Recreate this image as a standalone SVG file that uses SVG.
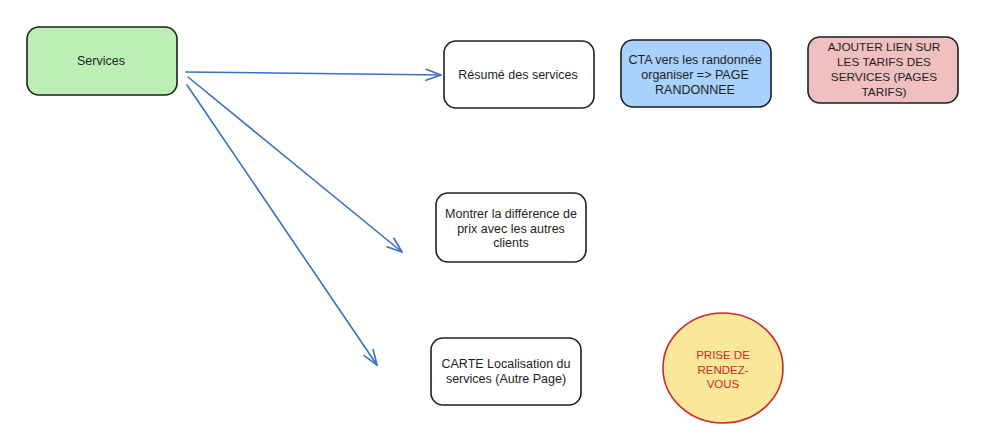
<svg xmlns="http://www.w3.org/2000/svg" width="1003" height="444" viewBox="0 0 1003 444">
<style>
.box{stroke:#1e1e1e;stroke-width:1.6;}
.t{font-family:"Liberation Sans",Arial,sans-serif;font-size:12.5px;fill:#1e1e1e;text-anchor:middle;}
.tu{font-size:11.8px;}
.tc{font-family:"Liberation Sans",Arial,sans-serif;font-size:11.5px;fill:#c92a2a;text-anchor:middle;}
.c{fill:none;stroke:#3a6fc4;stroke-width:1.6;stroke-linecap:round;}
</style>
<defs>
<marker id="ah" markerUnits="userSpaceOnUse" markerWidth="20" markerHeight="18" refX="16" refY="8" orient="auto" overflow="visible">
<path d="M1,2.5 L16,8 L1,13.5" fill="none" stroke="#3a6fc4" stroke-width="1.6" stroke-linecap="round" stroke-linejoin="round"/>
</marker>
</defs>
<rect width="1003" height="444" fill="#ffffff"/>
<g id="connectors">
<path class="c" d="M186,72 L441,75" marker-end="url(#ah)"/>
<path class="c" d="M188,77 L402,252" marker-end="url(#ah)"/>
<path class="c" d="M187,85 L377,365" marker-end="url(#ah)"/>
</g>
<g id="services">
<rect class="box" x="27" y="27" width="150" height="68" rx="12" fill="#bdeeb5"/>
<text class="t" x="101" y="64.5">Services</text>
</g>
<g id="resume">
<rect class="box" x="444" y="41" width="150" height="67" rx="12" fill="#ffffff"/>
<text class="t" x="518" y="79">Résumé des services</text>
</g>
<g id="cta">
<rect class="box" x="621" y="40" width="150" height="67" rx="12" fill="#a8d1fb"/>
<text class="t" x="695" y="64">CTA vers les randonnée</text>
<text class="t" x="695" y="79">organiser =&gt; PAGE</text>
<text class="t" x="695" y="94">RANDONNEE</text>
</g>
<g id="tarifs">
<rect class="box" x="808" y="37" width="150" height="66" rx="12" fill="#f0c0c0"/>
<text class="t tu" x="884" y="51">AJOUTER LIEN SUR</text>
<text class="t tu" x="884" y="66">LES TARIFS DES</text>
<text class="t tu" x="884" y="81">SERVICES (PAGES</text>
<text class="t tu" x="884" y="96">TARIFS)</text>
</g>
<g id="difference">
<rect class="box" x="436" y="193" width="150" height="69" rx="12" fill="#ffffff"/>
<text class="t" x="511" y="218">Montrer la différence de</text>
<text class="t" x="511" y="232.5">prix avec les autres</text>
<text class="t" x="511" y="247">clients</text>
</g>
<g id="carte">
<rect class="box" x="431" y="338" width="150" height="67" rx="12" fill="#ffffff"/>
<text class="t" x="506" y="368">CARTE Localisation du</text>
<text class="t" x="506" y="382.5">services (Autre Page)</text>
</g>
<g id="rdv">
<ellipse cx="723" cy="368" rx="60" ry="55" fill="#f9e79a" stroke="#c92a2a" stroke-width="1.6"/>
<text class="tc" x="723" y="359">PRISE DE</text>
<text class="tc" x="723" y="373.5">RENDEZ-</text>
<text class="tc" x="723" y="388">VOUS</text>
</g>
</svg>
